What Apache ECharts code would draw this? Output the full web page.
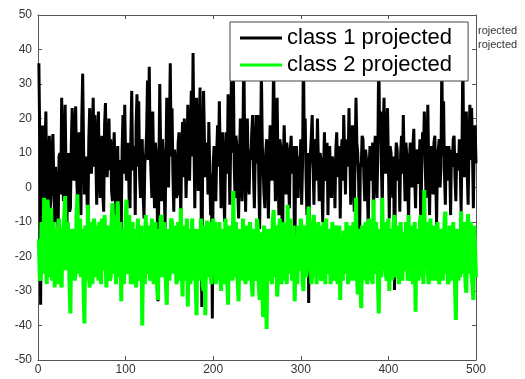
<!DOCTYPE html>
<html>
<head>
<meta charset="utf-8">
<script src="https://cdn.jsdelivr.net/npm/echarts@6/dist/echarts.min.js"></script>
<style>
html,body{margin:0;padding:0;background:#fff;}
#main{width:525px;height:379px;}
</style>
</head>
<body>
<div id="main"></div>
<script>
var seriesNames = ['class 1 projected', 'class 2 projected'];
var xTicks = [0, 100, 200, 300, 400, 500];
var yTicks = [-50, -40, -30, -20, -10, 0, 10, 20, 30, 40, 50];

// class 1 (black), samples 1..500
var class1 = [
	36, 14, -34, 5, 18, 2, -8, 12, 22, -3, -5, 8, 15, -6, -2, 10, 15.5, 3, -10, 6,
	6, -4, -12, 9, 10, -2, 26, 14, -4, 7, 24, 3, -11, 5, 10, -7, -6, 12, 23, 8,
	2, 18, 23.5, 4, -3, 11, 16, 0, -8, 20, 33, 12, -2, 6, 9, -4, -9, 14, 23, 7,
	4, 15, 26, 6, 21, 10, -5, 13, 22, 2, -3, 9, 15, -2, -7, 18, 24.5, 8, 3, 12,
	20, 5, 14, -1, -4, 9, 16, 3, -10, 6, 12, -5, -2, 8, -13, 11, 21, 4, 24, 9,
	2, 10, 13, -3, -6, 15, 28, 7, 5, 12, -8, 18, 27, 6, 25, 3, -3, 9, 14, -2,
	-9, 7, 10, 16, 31, 8, 35, 12, 4, -3, 22, 6, -6, 13, 10, -1, -33, 5, 30, 11,
	-4, 14, 9, 2, -12, 8, 26, 10, 0, 17, 36, 9, 23, 4, -7, 11, 7, -3, -2, 13,
	16, 5, -9, 10, 19, 3, 20, 12, -3, 8, 24, 6, 2, 15, 28, 9, 39, 14, -6, 11,
	26, 8, -1, 17, 29, 5, -34.6, 9, 28, 14, 3, 11, 13, -2, 19, 6, -8, 4, -38, 7,
	12, 3, -4, 10, 18, 6, 25, 9, -6, 13, 16, 0, -10, 8, 16, 4, 27, 11, -5, 14,
	38, 10, 35, 6, -3, 15, 12, -1, -9, 8, 20, 5, -4, 17, 40, 9, -7, 12, 20, 3,
	-2, 11, 8, 16, 21, 4, -6, 10, 21, 7, 21, 3, -12, 9, 34, 13, 5, -2, -6, 10,
	14, 6, -9, 8, 18, 11, 2, 15, 37, 9, -4, 12, 26, 5, -8, 14, 12, 3, -23, 7,
	18, 9, -2, 13, 10, 2, -6, 11, 15, 4, 4, 12, -32, 6, 12, -1, -3, 9, 8, 14,
	-5, 7, 40, 12, 20, 3, -8, 10, -33.5, 5, 10, 15, 21, 6, -5, 11, 14, 2, 20, 8,
	-4, 10, 8, 1, -10, 6, 16, 3, 2, 13, -8, 7, 12, 0, -3, 9, 9, 4, -6, 11,
	16, 5, 3, 12, -9, 8, 14, 2, 21, 10, -2, 14, 12, 6, 23, 9, -5, 11, 18, 4,
	-7, 9, 26, 13, 10, 2, -19, 7, 6, 15, 14, 3, -4, 11, 8, 0, -12, 6, 12, 9,
	2, 13, -8, 10, 15, 5, -3, 12, 40, 14, 22, 6, -6, 16, 26, 8, 4, 18, 23, 7,
	-9, 12, 10, 3, -3, 9, -29.7, 6, 13, 11, 2, 8, -7, 10, 15, 4, 21, 7, -4, 13,
	9, 2, -10, 8, 13, 5, 0, 12, 17, 3, -6, 9, 11, 1, 7, 14, -14, 5, 16, 10,
	22, 7, -3, 11, 24, 5, -8, 9, 12, 2, -2, 13, 15, 4, -11, 8, 8, 14, 0, 6,
	37, 9, 25, 4, -5, 12, 10, 2, 12, 7, -8, 11, 6, 14, 15, 3, -4, 10, 10, 5,
	14, 6, -7, 11, 38, 9, 3, 13, 22, 4, -5, 12, 24, 8, 23, 10, -6, 15, 18, 7
];

// class 2 (green), samples 1..500
var class2 = [
	-15, -26, -27, -10, -18, -25, -3, -12, -22, -28, -3.5, -11, -26, -9, -6, -27, -20, -10, -29, -14,
	-12, -28, -25, -9, -14, -27, -29, -12, -16, -8, -2.5, -24, -22, -10, -15, -28, -36.5, -12, -18, -26,
	-12, -27, -24, -8, -2, -25, -20, -9, -26, -12, -14, -29, -39.4, -11, -18, -27, -5, -24, -29, -10,
	-16, -28, -24, -9, -12, -26, -20, -11, -27, -10, -15, -28, -9, -24, -24, -8, -18, -29, -22, -11,
	-13, -27, -26, -10, -4.5, -25, -20, -8, -28, -12, -4, -26, -19, -10, -33, -12, -14, -28, -22, -9,
	-3.5, -24, -25, -8, -16, -28, -21, -10, -28, -12, -13, -29, -22, -9, -18, -27, -26, -11, -40, -14,
	-16, -28, -8, -25, -24, -11, -19, -27, -25, -9, -14, -28, -22, -10, -18, -29, -32.6, -12, -20, -9,
	-8, -26, -24, -10, -16, -28, -34, -12, -19, -27, -22, -9, -10, -25, -25, -11, -17, -28, -27, -10,
	-14, -27, -6, -22, -31.6, -11, -18, -27, -23, -9, -34.5, -13, -12, -28, -21, -9, -27, -12, -15, -28,
	-37, -12, -19, -27, -24, -9, -13, -28, -30, -11, -37, -14, -9.6, -26, -20, -10, -25, -28, -16, -9,
	-22, -10, -28, -12, -14, -27, -10, -25, -30, -12, -19, -28, -23, -9, -15, -27, -34, -11, -21, -26,
	-17, -27, -1, -24, -26, -10, -18, -28, -33, -12, -14, -27, -22, -9, -9, -25, -28, -11, -17, -27,
	-24, -10, -15, -28, -31.6, -12, -20, -27, -26, -9, -12, -28, -32.6, -13, -18, -27, -37.5, -11, -22, -28,
	-41, -12, -16, -27, -12, -25, -28, -10, -6.5, -26, -20, -11, -31.6, -27, -17, -9, -24, -28, -14, -10,
	-27, -11, -18, -28, -5, -25, -22, -9, -16, -27, -25, -11, -33, -14, -19, -28, -11, -24, -23, -9,
	-15, -27, -30, -11, -20, -26, -24, -10, -5.5, -24, -18, -28, -26, -10, -8, -25, -21, -28, -16, -10,
	-24, -11, -27, -26, -15, -10, -20, -28, -9, -24, -25, -12, -18, -28, -23, -10, -14, -27, -21, -11,
	-17, -28, -26, -11, -32.6, -14, -15, -27, -12.5, -25, -22, -10, -19, -28, -25, -11, -16, -27, -20, -10,
	-23, -27, -3, -24, -31, -12, -18, -28, -35, -11, -21, -27, -14, -10, -26, -28, -14.8, -9, -20, -27,
	-17, -28, -3.5, -25, -24, -10, -19, -27, -36.5, -12, -22, -26, -3, -24, -18, -10, -25, -27, -14, -9,
	-30, -12, -19, -27, -22, -10, -8, -25, -26, -11, -16, -28, -25, -10, -21, -27, -13, -24, -23, -10,
	-18, -27, -8, -25, -27, -11, -14, -28, -20, -10, -36, -12, -17, -27, -24, -10, -8, -26, -21, -28,
	-0.7, -24, -19, -10, -25, -28, -15, -9, -22, -27, -18, -11, -14, -27, -24, -10, -19, -28, -28, -12,
	-16, -27, -22, -10, -7, -25, -20, -28, -27, -11, -15, -27, -24, -10, -17, -28, -38.4, -12, -21, -27,
	-14, -26, -7, -24, -25, -10, -19, -28, -30.5, -12, -7.7, -25, -20, -10, -26, -28, -32.6, -11, -18, -26
];

function toPairs(vals) {
	var out = [];
	for (var i = 0; i < vals.length; i++) {
		out.push([i + 1, vals[i]]);
	}
	return out;
}

var axisColor = '#555';
var fontFam = 'Liberation Sans, Arial, sans-serif';
var labelFont = {color: '#333', fontSize: 12, fontFamily: fontFam};

var myChart = echarts.init(document.getElementById('main'), null, {renderer: 'canvas'});
myChart.setOption({
	animation: false,
	grid: {left: 38, right: 49, top: 15, bottom: 19, containLabel: false},
	legend: {
		data: seriesNames,
		orient: 'vertical',
		left: 230,
		top: 22,
		backgroundColor: '#fff',
		borderColor: '#444',
		borderWidth: 1,
		borderRadius: 0,
		padding: [5, 16, 5, 10],
		itemWidth: 42,
		itemHeight: 3,
		itemGap: 5,
		icon: 'rect',
		textStyle: {fontSize: 22, color: '#000', fontFamily: fontFam}
	},
	xAxis: [{
		type: 'value',
		min: xTicks[0],
		max: xTicks[xTicks.length - 1],
		interval: 100,
		position: 'bottom',
		axisLine: {show: true, onZero: false, lineStyle: {color: axisColor, width: 1}},
		axisTick: {show: true, inside: true, length: 4, lineStyle: {color: axisColor}},
		axisLabel: Object.assign({margin: 4}, labelFont),
		splitLine: {show: false}
	}, {
		type: 'value',
		min: xTicks[0],
		max: xTicks[xTicks.length - 1],
		interval: 100,
		position: 'top',
		axisLine: {show: true, onZero: false, lineStyle: {color: axisColor, width: 1}},
		axisTick: {show: true, inside: true, length: 4, lineStyle: {color: axisColor}},
		axisLabel: {show: false},
		splitLine: {show: false}
	}],
	yAxis: [{
		type: 'value',
		min: yTicks[0],
		max: yTicks[yTicks.length - 1],
		interval: 10,
		position: 'left',
		axisLine: {show: true, onZero: false, lineStyle: {color: axisColor, width: 1}},
		axisTick: {show: true, inside: true, length: 4, lineStyle: {color: axisColor}},
		axisLabel: Object.assign({margin: 6}, labelFont),
		splitLine: {show: false}
	}, {
		type: 'value',
		min: yTicks[0],
		max: yTicks[yTicks.length - 1],
		interval: 10,
		position: 'right',
		axisLine: {show: true, onZero: false, lineStyle: {color: axisColor, width: 1}},
		axisTick: {show: true, inside: true, length: 4, lineStyle: {color: axisColor}},
		axisLabel: {show: false},
		splitLine: {show: false}
	}],
	series: [{
		name: seriesNames[0],
		type: 'line',
		showSymbol: false,
		color: '#000',
		lineStyle: {color: '#000', width: 3},
		data: toPairs(class1)
	}, {
		name: seriesNames[1],
		type: 'line',
		showSymbol: false,
		color: '#00ff00',
		lineStyle: {color: '#00ff00', width: 4},
		data: toPairs(class2)
	}],
	// stray clipped legend text at the right edge of the original figure
	graphic: [{
		type: 'text', left: 478, top: 25,
		style: {text: 'rojected', fontSize: 11, fill: '#333', fontFamily: fontFam}
	}, {
		type: 'text', left: 478, top: 39,
		style: {text: 'rojected', fontSize: 11, fill: '#333', fontFamily: fontFam}
	}]
});
</script>
</body>
</html>
